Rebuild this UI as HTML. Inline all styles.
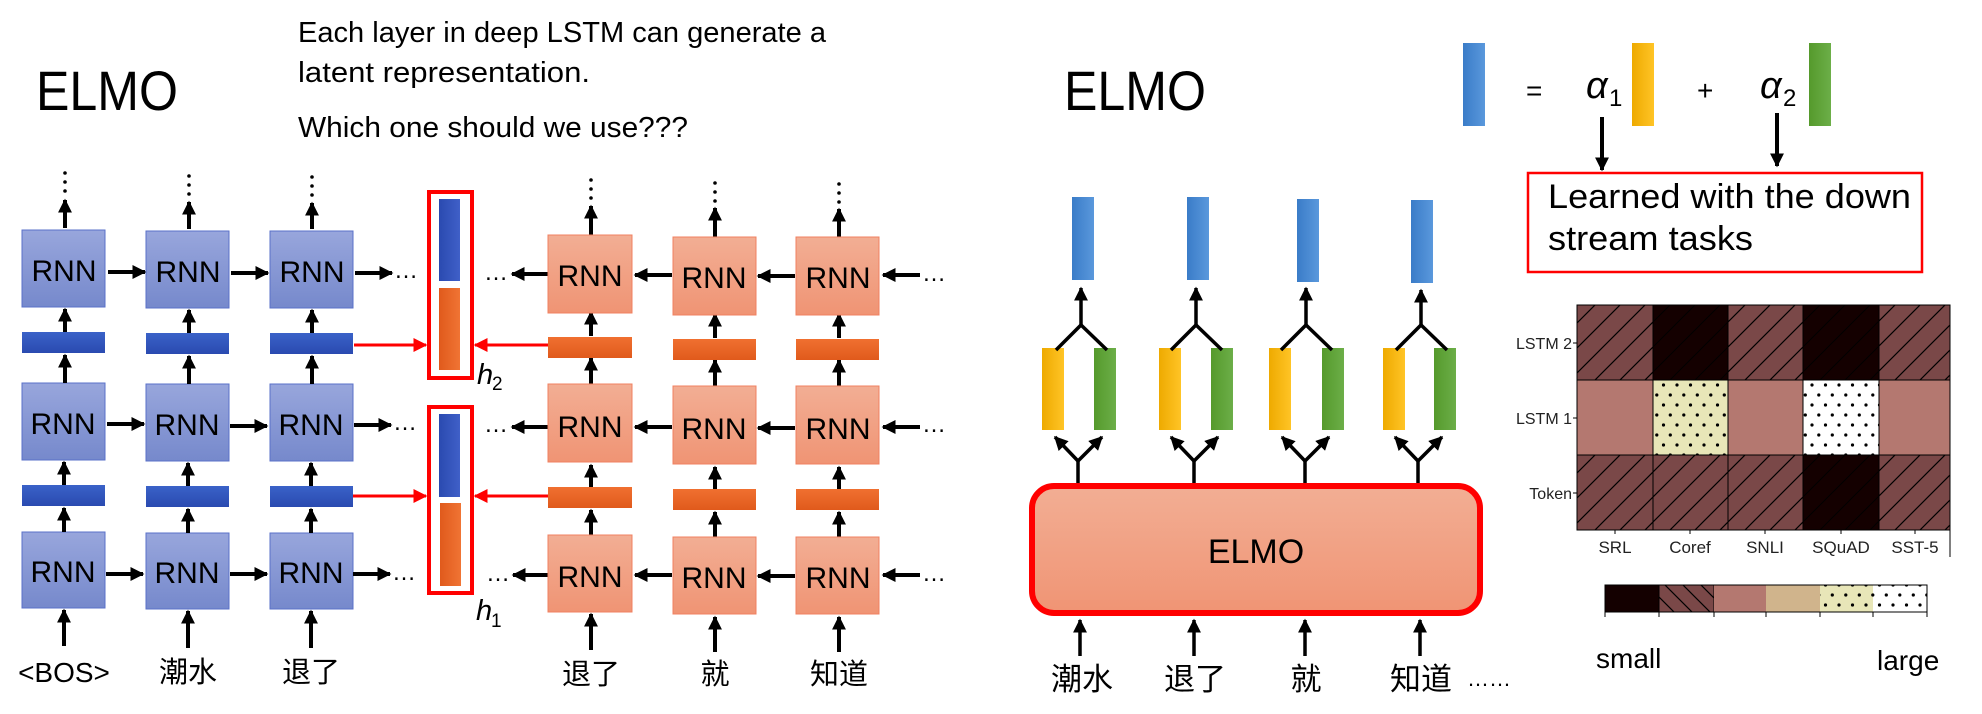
<!DOCTYPE html>
<html><head><meta charset="utf-8"><style>
html,body{margin:0;padding:0;background:#fff;}
svg{display:block;}
text{font-family:"Liberation Sans","Noto Sans CJK SC",sans-serif;}
</style></head><body>
<svg width="1982" height="714" viewBox="0 0 1982 714" xmlns="http://www.w3.org/2000/svg">
<defs>
<marker id="ah" viewBox="0 0 10 10" refX="9" refY="5" markerWidth="14" markerHeight="14" markerUnits="userSpaceOnUse" orient="auto"><path d="M0,0 L10,5 L0,10 z" fill="#000"/></marker>
<marker id="ahr" viewBox="0 0 10 10" refX="9" refY="5" markerWidth="14" markerHeight="14" markerUnits="userSpaceOnUse" orient="auto"><path d="M0,0 L10,5 L0,10 z" fill="#f00"/></marker>
<linearGradient id="gb" x1="0" y1="0" x2="0" y2="1"><stop offset="0" stop-color="#98a6dc"/><stop offset="1" stop-color="#7689cc"/></linearGradient>
<linearGradient id="go" x1="0" y1="0" x2="0" y2="1"><stop offset="0" stop-color="#f2ae94"/><stop offset="1" stop-color="#f09474"/></linearGradient>
<linearGradient id="gbb" x1="0" y1="0" x2="0" y2="1"><stop offset="0" stop-color="#3a62c8"/><stop offset="1" stop-color="#2a4ab0"/></linearGradient>
<linearGradient id="gob" x1="0" y1="0" x2="0" y2="1"><stop offset="0" stop-color="#f07030"/><stop offset="1" stop-color="#e05a1c"/></linearGradient>
<linearGradient id="gbv" x1="0" y1="0" x2="1" y2="0"><stop offset="0" stop-color="#2a4ab0"/><stop offset="1" stop-color="#4060c8"/></linearGradient>
<linearGradient id="gov" x1="0" y1="0" x2="1" y2="0"><stop offset="0" stop-color="#e05a1c"/><stop offset="1" stop-color="#f07434"/></linearGradient>
<linearGradient id="gl" x1="0" y1="0" x2="1" y2="0"><stop offset="0" stop-color="#3a7cc8"/><stop offset="1" stop-color="#5a98dc"/></linearGradient>
<linearGradient id="gy" x1="0" y1="0" x2="1" y2="0"><stop offset="0" stop-color="#eeaa00"/><stop offset="1" stop-color="#ffc426"/></linearGradient>
<linearGradient id="gg" x1="0" y1="0" x2="1" y2="0"><stop offset="0" stop-color="#559a2c"/><stop offset="1" stop-color="#6cae48"/></linearGradient>
<linearGradient id="ge" x1="0" y1="0" x2="0" y2="1"><stop offset="0" stop-color="#f2ae94"/><stop offset="1" stop-color="#f09474"/></linearGradient>
<pattern id="hatch" patternUnits="userSpaceOnUse" width="25" height="25"><rect width="25" height="25" fill="#7a4848"/><path d="M-5,30 L30,-5 M-10,10 L10,-10 M15,35 L35,15" stroke="#000" stroke-width="1.2"/></pattern>
<pattern id="hatchb" patternUnits="userSpaceOnUse" width="25" height="25"><rect width="25" height="25" fill="#140000"/><path d="M-5,30 L30,-5 M-10,10 L10,-10 M15,35 L35,15" stroke="#000" stroke-width="1"/></pattern>
<pattern id="hatchL" patternUnits="userSpaceOnUse" width="18" height="18"><rect width="18" height="18" fill="#7a4848"/><path d="M-5,-5 L23,23 M-5,13 L5,23 M13,-5 L23,5" stroke="#000" stroke-width="1.2"/></pattern>
<pattern id="dotY" patternUnits="userSpaceOnUse" width="13.5" height="20"><rect width="13.5" height="20" fill="#e8e6b8"/><circle cx="3" cy="5" r="1.6" fill="#000"/><circle cx="9.8" cy="15" r="1.6" fill="#000"/></pattern>
<pattern id="dotW" patternUnits="userSpaceOnUse" width="13.5" height="20"><rect width="13.5" height="20" fill="#fff"/><circle cx="3" cy="5" r="1.6" fill="#000"/><circle cx="9.8" cy="15" r="1.6" fill="#000"/></pattern>
</defs>

<!-- LEFT -->
<text x="36" y="110" font-size="56" fill="#000" textLength="142" lengthAdjust="spacingAndGlyphs">ELMO</text>
<g font-size="29" fill="#000">
<text x="298" y="42" textLength="528" lengthAdjust="spacingAndGlyphs">Each layer in deep LSTM can generate a</text>
<text x="298" y="82" textLength="292" lengthAdjust="spacingAndGlyphs">latent representation.</text>
<text x="298" y="137" textLength="390" lengthAdjust="spacingAndGlyphs">Which one should we use???</text>
</g>

<g fill="url(#gb)" stroke="#5a70c8" stroke-width="1">
<rect x="22" y="230" width="83" height="77"/><rect x="146" y="231" width="83" height="77"/><rect x="270" y="231" width="83" height="77"/>
<rect x="22" y="383" width="83" height="77"/><rect x="146" y="384" width="83" height="77"/><rect x="270" y="384" width="83" height="77"/>
<rect x="22" y="532" width="83" height="76"/><rect x="146" y="533" width="83" height="76"/><rect x="270" y="533" width="83" height="76"/>
</g>
<g fill="url(#gbb)">
<rect x="22" y="332" width="83" height="21"/><rect x="146" y="333" width="83" height="21"/><rect x="270" y="333" width="83" height="21"/>
<rect x="22" y="485" width="83" height="21"/><rect x="146" y="486" width="83" height="21"/><rect x="270" y="486" width="83" height="21"/>
</g>
<g font-size="30" text-anchor="middle" fill="#000">
<text x="64" y="281">RNN</text><text x="188" y="282">RNN</text><text x="312" y="282">RNN</text>
<text x="63" y="434">RNN</text><text x="187" y="435">RNN</text><text x="311" y="435">RNN</text>
<text x="63" y="582">RNN</text><text x="187" y="583">RNN</text><text x="311" y="583">RNN</text>
</g>

<g stroke="#000" stroke-width="4" marker-end="url(#ah)" fill="none">
<line x1="64" y1="646" x2="64" y2="610"/><line x1="188" y1="648" x2="188" y2="611"/><line x1="311" y1="648" x2="311" y2="611"/>
<line x1="64" y1="532" x2="64" y2="508"/><line x1="188" y1="533" x2="188" y2="509"/><line x1="311" y1="533" x2="311" y2="509"/>
<line x1="64" y1="485" x2="64" y2="462"/><line x1="188" y1="486" x2="188" y2="463"/><line x1="311" y1="486" x2="311" y2="463"/>
<line x1="65" y1="383" x2="65" y2="355"/><line x1="189" y1="384" x2="189" y2="356"/><line x1="312" y1="384" x2="312" y2="356"/>
<line x1="65" y1="332" x2="65" y2="309"/><line x1="189" y1="333" x2="189" y2="310"/><line x1="312" y1="333" x2="312" y2="310"/>
<line x1="65" y1="228" x2="65" y2="200"/><line x1="189" y1="229" x2="189" y2="202"/><line x1="312" y1="229" x2="312" y2="203"/>
<line x1="108" y1="272" x2="145" y2="272"/><line x1="231" y1="273" x2="268" y2="273"/><line x1="355" y1="273" x2="392" y2="273"/>
<line x1="107" y1="424" x2="144" y2="424"/><line x1="230" y1="426" x2="267" y2="426"/><line x1="354" y1="425" x2="391" y2="425"/>
<line x1="106" y1="574" x2="143" y2="574"/><line x1="230" y1="574" x2="267" y2="574"/><line x1="353" y1="574" x2="390" y2="574"/>
<line x1="591" y1="650" x2="591" y2="614"/><line x1="715" y1="652" x2="715" y2="617"/><line x1="839" y1="652" x2="839" y2="617"/>
<line x1="591" y1="535" x2="591" y2="510"/><line x1="715" y1="537" x2="715" y2="512"/><line x1="839" y1="537" x2="839" y2="512"/>
<line x1="591" y1="488" x2="591" y2="465"/><line x1="715" y1="490" x2="715" y2="467"/><line x1="839" y1="490" x2="839" y2="467"/>
<line x1="591" y1="386" x2="591" y2="358"/><line x1="715" y1="388" x2="715" y2="360"/><line x1="839" y1="388" x2="839" y2="360"/>
<line x1="591" y1="336" x2="591" y2="312"/><line x1="715" y1="338" x2="715" y2="314"/><line x1="839" y1="338" x2="839" y2="314"/>
<line x1="591" y1="235" x2="591" y2="206"/><line x1="715" y1="237" x2="715" y2="208"/><line x1="839" y1="237" x2="839" y2="209"/>
<line x1="548" y1="274" x2="512" y2="274"/><line x1="672" y1="275" x2="635" y2="275"/><line x1="795" y1="276" x2="758" y2="276"/><line x1="920" y1="275" x2="883" y2="275"/>
<line x1="548" y1="427" x2="512" y2="427"/><line x1="672" y1="427" x2="635" y2="427"/><line x1="795" y1="428" x2="758" y2="428"/><line x1="920" y1="427" x2="883" y2="427"/>
<line x1="548" y1="575" x2="513" y2="575"/><line x1="672" y1="575" x2="635" y2="575"/><line x1="795" y1="576" x2="758" y2="576"/><line x1="920" y1="575" x2="883" y2="575"/>
</g>
<g font-size="24" fill="#000">
<text x="394" y="278">…</text><text x="393" y="430">…</text><text x="392" y="580">…</text>
<text x="484" y="280">…</text><text x="484" y="432">…</text><text x="486" y="581">…</text>
<text x="922" y="281">…</text><text x="922" y="432">…</text><text x="922" y="581">…</text>
</g>
<g fill="#000">
<circle cx="65" cy="173" r="1.8"/><circle cx="65" cy="182" r="1.8"/><circle cx="65" cy="191" r="1.8"/>
<circle cx="189" cy="176" r="1.8"/><circle cx="189" cy="185" r="1.8"/><circle cx="189" cy="194" r="1.8"/>
<circle cx="312" cy="177" r="1.8"/><circle cx="312" cy="186" r="1.8"/><circle cx="312" cy="195" r="1.8"/>
<circle cx="591" cy="180" r="1.8"/><circle cx="591" cy="189" r="1.8"/><circle cx="591" cy="198" r="1.8"/>
<circle cx="715" cy="183" r="1.8"/><circle cx="715" cy="192" r="1.8"/><circle cx="715" cy="201" r="1.8"/>
<circle cx="839" cy="184" r="1.8"/><circle cx="839" cy="193" r="1.8"/><circle cx="839" cy="202" r="1.8"/>
</g>

<g fill="url(#go)" stroke="#f08060" stroke-width="1">
<rect x="548" y="235" width="84" height="78"/><rect x="673" y="237" width="83" height="78"/><rect x="796" y="237" width="83" height="78"/>
<rect x="548" y="384" width="84" height="78"/><rect x="673" y="386" width="83" height="78"/><rect x="796" y="386" width="83" height="78"/>
<rect x="548" y="535" width="84" height="77"/><rect x="673" y="537" width="83" height="77"/><rect x="796" y="537" width="83" height="77"/>
</g>
<g fill="url(#gob)">
<rect x="548" y="337" width="84" height="21"/><rect x="673" y="339" width="83" height="21"/><rect x="796" y="339" width="83" height="21"/>
<rect x="548" y="487" width="84" height="21"/><rect x="673" y="489" width="83" height="21"/><rect x="796" y="489" width="83" height="21"/>
</g>
<g font-size="30" text-anchor="middle" fill="#000">
<text x="590" y="286">RNN</text><text x="714" y="288">RNN</text><text x="838" y="288">RNN</text>
<text x="590" y="437">RNN</text><text x="714" y="439">RNN</text><text x="838" y="439">RNN</text>
<text x="590" y="587">RNN</text><text x="714" y="588">RNN</text><text x="838" y="588">RNN</text>
</g>

<rect x="429" y="192" width="43" height="186" fill="none" stroke="#f00" stroke-width="4"/>
<rect x="439" y="199" width="21" height="82" fill="url(#gbv)"/>
<rect x="439" y="288" width="21" height="82" fill="url(#gov)"/>
<rect x="429" y="407" width="43" height="186" fill="none" stroke="#f00" stroke-width="4"/>
<rect x="439" y="414" width="21" height="83" fill="url(#gbv)"/>
<rect x="440" y="503" width="21" height="83" fill="url(#gov)"/>
<g stroke="#f00" stroke-width="3" marker-end="url(#ahr)">
<line x1="354" y1="345" x2="426" y2="345"/><line x1="548" y1="345" x2="475" y2="345"/>
<line x1="353" y1="496" x2="426" y2="496"/><line x1="548" y1="496" x2="475" y2="496"/>
</g>
<g font-family="Liberation Serif,serif" font-style="italic" fill="#000">
<text x="477" y="384" font-size="29">h</text><text x="492" y="390" font-size="19" font-style="normal">2</text>
<text x="476" y="620" font-size="29">h</text><text x="491" y="627" font-size="19" font-style="normal">1</text>
</g>

<g font-size="29" text-anchor="middle" fill="#000">
<text x="64" y="682" font-size="28">&lt;BOS&gt;</text>
<text x="188" y="682">潮水</text><text x="311" y="682">退了</text>
<text x="591" y="684">退了</text><text x="715" y="684">就</text><text x="839" y="684">知道</text>
</g>

<!-- RIGHT -->
<text x="1064" y="110" font-size="56" fill="#000" textLength="142" lengthAdjust="spacingAndGlyphs">ELMO</text>
<rect x="1463" y="43" width="22" height="83" fill="url(#gl)"/>
<text x="1526" y="100" font-size="28">=</text>
<text x="1586" y="98" font-size="38" font-family="Liberation Serif,serif" font-style="italic">α</text>
<text x="1609" y="106" font-size="24" font-family="Liberation Serif,serif">1</text>
<rect x="1632" y="43" width="22" height="83" fill="url(#gy)"/>
<text x="1697" y="100" font-size="28">+</text>
<text x="1760" y="98" font-size="38" font-family="Liberation Serif,serif" font-style="italic">α</text>
<text x="1783" y="106" font-size="24" font-family="Liberation Serif,serif">2</text>
<rect x="1809" y="43" width="22" height="83" fill="url(#gg)"/>
<g stroke="#000" stroke-width="4" marker-end="url(#ah)">
<line x1="1602" y1="117" x2="1602" y2="170"/><line x1="1777" y1="113" x2="1777" y2="166"/>
</g>
<rect x="1528" y="173" width="394" height="99" fill="#fff" stroke="#f00" stroke-width="2.5"/>
<text x="1548" y="208" font-size="34" textLength="363" lengthAdjust="spacingAndGlyphs">Learned with the down</text>
<text x="1548" y="250" font-size="34" textLength="205" lengthAdjust="spacingAndGlyphs">stream tasks</text>

<g fill="url(#gl)">
<rect x="1072" y="197" width="22" height="83"/><rect x="1187" y="197" width="22" height="83"/><rect x="1297" y="199" width="22" height="83"/><rect x="1411" y="200" width="22" height="83"/>
</g>
<g fill="url(#gy)">
<rect x="1042" y="348" width="22" height="82"/><rect x="1159" y="348" width="22" height="82"/><rect x="1269" y="348" width="22" height="82"/><rect x="1383" y="348" width="22" height="82"/>
</g>
<g fill="url(#gg)">
<rect x="1094" y="348" width="22" height="82"/><rect x="1211" y="348" width="22" height="82"/><rect x="1322" y="348" width="22" height="82"/><rect x="1434" y="348" width="22" height="82"/>
</g>
<g stroke="#000" stroke-width="3.5" fill="none">
<path d="M1056,350 L1081,325 L1107,350"/><path d="M1171,350 L1196,325 L1222,350"/><path d="M1281,350 L1306,325 L1332,350"/><path d="M1396,350 L1421,325 L1447,350"/>
<line x1="1078" y1="483" x2="1078" y2="460"/><line x1="1194" y1="483" x2="1194" y2="460"/><line x1="1305" y1="483" x2="1305" y2="460"/><line x1="1418" y1="483" x2="1418" y2="460"/>
</g>
<g stroke="#000" stroke-width="3.5" marker-end="url(#ah)">
<line x1="1081" y1="325" x2="1081" y2="288"/><line x1="1196" y1="325" x2="1196" y2="288"/><line x1="1306" y1="325" x2="1306" y2="288"/><line x1="1421" y1="325" x2="1421" y2="290"/>
<line x1="1078" y1="461" x2="1055" y2="437"/><line x1="1078" y1="461" x2="1102" y2="437"/>
<line x1="1194" y1="461" x2="1171" y2="437"/><line x1="1194" y1="461" x2="1218" y2="437"/>
<line x1="1305" y1="461" x2="1282" y2="437"/><line x1="1305" y1="461" x2="1329" y2="437"/>
<line x1="1418" y1="461" x2="1395" y2="437"/><line x1="1418" y1="461" x2="1442" y2="437"/>
<line x1="1080" y1="656" x2="1080" y2="620"/><line x1="1194" y1="656" x2="1194" y2="620"/><line x1="1305" y1="656" x2="1305" y2="620"/><line x1="1420" y1="656" x2="1420" y2="620"/>
</g>
<rect x="1032" y="486" width="448" height="127" rx="22" fill="url(#ge)" stroke="#f00" stroke-width="6"/>
<text x="1256" y="563" font-size="34" text-anchor="middle">ELMO</text>
<g font-size="31" text-anchor="middle" fill="#000">
<text x="1082" y="690">潮水</text><text x="1195" y="690">退了</text><text x="1306" y="690">就</text><text x="1421" y="690">知道</text>
</g>
<text x="1467" y="686" font-size="22">……</text>

<g stroke="#000" stroke-width="1">
<rect x="1577" y="305" width="76" height="75" fill="url(#hatch)"/>
<rect x="1653" y="305" width="75" height="75" fill="url(#hatchb)"/>
<rect x="1728" y="305" width="75" height="75" fill="url(#hatch)"/>
<rect x="1803" y="305" width="76" height="75" fill="url(#hatchb)"/>
<rect x="1879" y="305" width="71" height="75" fill="url(#hatch)"/>
<rect x="1577" y="380" width="76" height="75" fill="#b47870"/>
<rect x="1653" y="380" width="75" height="75" fill="url(#dotY)"/>
<rect x="1728" y="380" width="75" height="75" fill="#b47870"/>
<rect x="1803" y="380" width="76" height="75" fill="url(#dotW)"/>
<rect x="1879" y="380" width="71" height="75" fill="#b47870"/>
<rect x="1577" y="455" width="76" height="75" fill="url(#hatch)"/>
<rect x="1653" y="455" width="75" height="75" fill="url(#hatch)"/>
<rect x="1728" y="455" width="75" height="75" fill="url(#hatch)"/>
<rect x="1803" y="455" width="76" height="75" fill="url(#hatchb)"/>
<rect x="1879" y="455" width="71" height="75" fill="url(#hatch)"/>
<line x1="1950" y1="530" x2="1950" y2="557"/>
<line x1="1573" y1="343" x2="1577" y2="343"/><line x1="1573" y1="418" x2="1577" y2="418"/><line x1="1573" y1="493" x2="1577" y2="493"/>
<line x1="1615" y1="530" x2="1615" y2="534"/><line x1="1690" y1="530" x2="1690" y2="534"/><line x1="1765" y1="530" x2="1765" y2="534"/><line x1="1841" y1="530" x2="1841" y2="534"/><line x1="1915" y1="530" x2="1915" y2="534"/>
</g>
<g font-size="16" fill="#222" text-anchor="end">
<text x="1572" y="349">LSTM 2</text><text x="1572" y="424">LSTM 1</text><text x="1572" y="499">Token</text>
</g>
<g font-size="17" fill="#222" text-anchor="middle">
<text x="1615" y="553">SRL</text><text x="1690" y="553">Coref</text><text x="1765" y="553">SNLI</text><text x="1841" y="553">SQuAD</text><text x="1915" y="553">SST-5</text>
</g>
<g stroke="#000" stroke-width="1">
<rect x="1605" y="585" width="54" height="27" fill="#140000"/>
<rect x="1659" y="585" width="55" height="27" fill="url(#hatchL)"/>
<rect x="1714" y="585" width="52" height="27" fill="#b47870" stroke="none"/>
<rect x="1766" y="585" width="54" height="27" fill="#d0b48c" stroke="none"/>
<rect x="1820" y="585" width="53" height="27" fill="url(#dotY)" stroke="none"/>
<rect x="1873" y="585" width="54" height="27" fill="url(#dotW)" stroke="none"/>
<rect x="1605" y="585" width="322" height="27" fill="none"/>
<line x1="1605" y1="612" x2="1605" y2="617"/><line x1="1659" y1="612" x2="1659" y2="617"/><line x1="1714" y1="612" x2="1714" y2="617"/><line x1="1766" y1="612" x2="1766" y2="617"/><line x1="1820" y1="612" x2="1820" y2="617"/><line x1="1873" y1="612" x2="1873" y2="617"/><line x1="1927" y1="612" x2="1927" y2="617"/>
</g>
<text x="1596" y="668" font-size="28">small</text>
<text x="1877" y="670" font-size="28">large</text>
</svg>
</body></html>
